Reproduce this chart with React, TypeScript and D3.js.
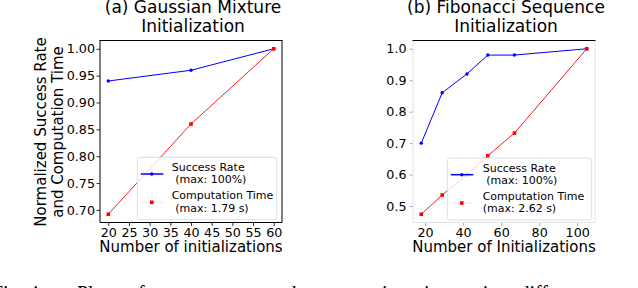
import * as d3 from "d3";
import { useEffect, useRef } from "react";

// (a) Gaussian mixture initialization
const gmInits = [20, 40, 60];
const gmSuccess = [0.94, 0.96, 1.0];
const gmTime = [0.692, 0.86, 1.0];
const gmXTicks = [20, 25, 30, 35, 40, 45, 50, 55, 60];
const gmYTicks = [0.7, 0.75, 0.8, 0.85, 0.9, 0.95, 1.0];
const gmLabels = ["Success Rate", " (max: 100%)", "Computation Time", " (max: 1.79 s)"];

// (b) Fibonacci sequence initialization
const fibInits = [18, 29, 42, 53, 67, 105];
const fibSuccess = [0.7, 0.86, 0.92, 0.98, 0.98, 1.0];
const fibTime = [0.474, 0.535, 0.6, 0.66, 0.732, 1.0];
const fibXTicks = [20, 40, 60, 80, 100];
const fibYTicks = [0.5, 0.6, 0.7, 0.8, 0.9, 1.0];
const fibLabels = ["Success Rate", " (max: 100%)", "Computation Time", "(max: 2.62 s)"];

const FONT = "DejaVu Sans, sans-serif";

const pad = (ext) => {
  const m = (ext[1] - ext[0]) * 0.05;
  return [ext[0] - m, ext[1] + m];
};

const drawPanel = (svg, cfg) => {
  const { left, right, top, bottom } = cfg.box;
  const g = svg.append("g");

  const x = d3.scaleLinear().domain(pad(d3.extent(cfg.xs))).range([left, right]);
  const y = d3
    .scaleLinear()
    .domain(pad(d3.extent([...cfg.success, ...cfg.time])))
    .range([bottom, top]);

  // titles
  const cx = (left + right) / 2;
  cfg.title.forEach((t, i) => {
    g.append("text")
      .attr("x", cx + 2)
      .attr("y", 12.5 + i * 19.5)
      .attr("text-anchor", "middle")
      .style("font-family", FONT)
      .style("font-size", "17px")
      .text(t);
  });

  // axes
  const xAxis = g
    .append("g")
    .attr("transform", `translate(0,${bottom})`)
    .call(d3.axisBottom(x).tickValues(cfg.xTicks).tickSize(3.5).tickPadding(2).tickFormat(d3.format("d")));
  const yAxis = g
    .append("g")
    .attr("transform", `translate(${left},0)`)
    .call(d3.axisLeft(y).tickValues(cfg.yTicks).tickSize(3.5).tickPadding(cfg.yPad).tickFormat(d3.format(cfg.yFmt)));
  [xAxis, yAxis].forEach((a) => {
    a.select(".domain").remove();
    a.selectAll("line").attr("stroke", cfg.tickColor).attr("stroke-width", 0.8);
    a.selectAll("text").style("font-family", FONT).style("font-size", "12.7px").attr("fill", "#000");
  });

  g.append("text")
    .attr("x", cx)
    .attr("y", 251.7)
    .attr("text-anchor", "middle")
    .style("font-family", FONT)
    .style("font-size", "15px")
    .text(cfg.xLabel);

  // lines
  const line = (vals) =>
    d3
      .line()
      .x((d, i) => x(cfg.xs[i]))
      .y((d) => y(d))(vals);

  g.append("path").attr("d", line(cfg.success)).attr("fill", "none").attr("stroke", "#0000ff").attr("stroke-width", 1);
  g.append("path").attr("d", line(cfg.time)).attr("fill", "none").attr("stroke", "#ff0000").attr("stroke-width", 0.9);

  g.selectAll(".sm")
    .data(cfg.success)
    .join("circle")
    .attr("cx", (d, i) => x(cfg.xs[i]))
    .attr("cy", (d) => y(d))
    .attr("r", 1.7)
    .attr("fill", "#0000ff");
  g.selectAll(".tm")
    .data(cfg.time)
    .join("rect")
    .attr("x", (d, i) => x(cfg.xs[i]) - 1.8)
    .attr("y", (d) => y(d) - 1.8)
    .attr("width", 3.6)
    .attr("height", 3.6)
    .attr("fill", "#ff0000");

  // frame
  const spine = (x1, y1, x2, y2, c) =>
    g.append("line").attr("x1", x1).attr("y1", y1).attr("x2", x2).attr("y2", y2).attr("stroke", c).attr("stroke-width", 1);
  spine(left, top, left, bottom, cfg.spine);
  spine(right, top, right, bottom, cfg.spine);
  spine(left, bottom, right, bottom, cfg.spine);
  spine(left - 0.5, top, right + 0.5, top, "#000");

  // legend
  const lg = cfg.legend;
  const L = g.append("g").attr("transform", `translate(${lg.x},${lg.y})`);
  L.append("rect")
    .attr("width", lg.w)
    .attr("height", lg.h)
    .attr("rx", 2.5)
    .attr("fill", "#fff")
    .attr("fill-opacity", 0.8)
    .attr("stroke", "#d8d8d8")
    .attr("stroke-width", 0.8);
  L.append("line").attr("x1", 3.5).attr("x2", 26).attr("y1", 16.7).attr("y2", 16.7).attr("stroke", "#0000ff").attr("stroke-width", 1.5);
  L.append("circle").attr("cx", 14.5).attr("cy", 16.7).attr("r", 1.7).attr("fill", "#0000ff");
  L.append("line").attr("x1", 3.5).attr("x2", 26).attr("y1", 45).attr("y2", 45).attr("stroke", "#ff0000").attr("stroke-opacity", 0.08).attr("stroke-width", 1.5);
  L.append("rect").attr("x", 12.7).attr("y", 43.2).attr("width", 3.6).attr("height", 3.6).attr("fill", "#ff0000");
  const baselines = [13.7, 26, 41.7, 54.4];
  lg.labels.forEach((t, i) => {
    const indent = t.startsWith(" ") ? 3.5 : 0;
    L.append("text")
      .attr("x", lg.textX + indent)
      .attr("y", baselines[i])
      .style("font-family", FONT)
      .style("font-size", "11px")
      .text(t.trim());
  });
};

export default function App() {
  const svgRef = useRef(null);

  useEffect(() => {
    const svg = d3.select(svgRef.current);
    svg.selectAll("*").remove();

    drawPanel(svg, {
      box: { left: 100, right: 282, top: 40.5, bottom: 222.5 },
      xs: gmInits,
      success: gmSuccess,
      time: gmTime,
      xTicks: gmXTicks,
      yTicks: gmYTicks,
      yFmt: ".2f",
      yPad: 1.5,
      tickColor: "#000",
      spine: "#000",
      title: ["(a) Gaussian Mixture", "Initialization"],
      xLabel: "Number of initializations",
      legend: { x: 137.3, y: 157.3, w: 139.4, h: 62.4, textX: 34.4, labels: gmLabels },
    });

    drawPanel(svg, {
      box: { left: 413, right: 595, top: 40.5, bottom: 222.5 },
      xs: fibInits,
      success: fibSuccess,
      time: fibTime,
      xTicks: fibXTicks,
      yTicks: fibYTicks,
      yFmt: ".1f",
      yPad: 3,
      tickColor: "#999",
      spine: "#e2e2e2",
      title: ["(b) Fibonacci Sequence", "Initialization"],
      xLabel: "Number of Initializations",
      legend: { x: 447.3, y: 158, w: 144.4, h: 62, textX: 35.4, labels: fibLabels },
    });

    // y label of panel (a)
    const yl = svg.append("g").attr("transform", "translate(0,132) rotate(-90)");
    ["Normalized Success Rate", "and Computation Time"].forEach((t, i) => {
      yl.append("text")
        .attr("x", 0)
        .attr("y", 46 + i * 17)
        .attr("text-anchor", "middle")
        .style("font-family", FONT)
        .style("font-size", "15px")
        .text(t);
    });

    // caption, mostly cut off by the bottom edge
    svg.append("text")
      .attr("x", -8)
      .attr("y", 300)
      .style("font-family", "Liberation Serif, serif")
      .style("font-size", "20px")
      .text("Fig. 4:");
    svg.append("text")
      .attr("x", 77)
      .attr("y", 300)
      .style("font-family", "Liberation Serif, serif")
      .style("font-size", "20px")
      .style("word-spacing", "6px")
      .text("Plots of success rate and computation time using different");
  }, []);

  return (
    <div style={{ position: "absolute", left: 0, top: 0 }}>
      <svg ref={svgRef} width={638} height={288} style={{ display: "block", background: "#fff" }} />
    </div>
  );
}
